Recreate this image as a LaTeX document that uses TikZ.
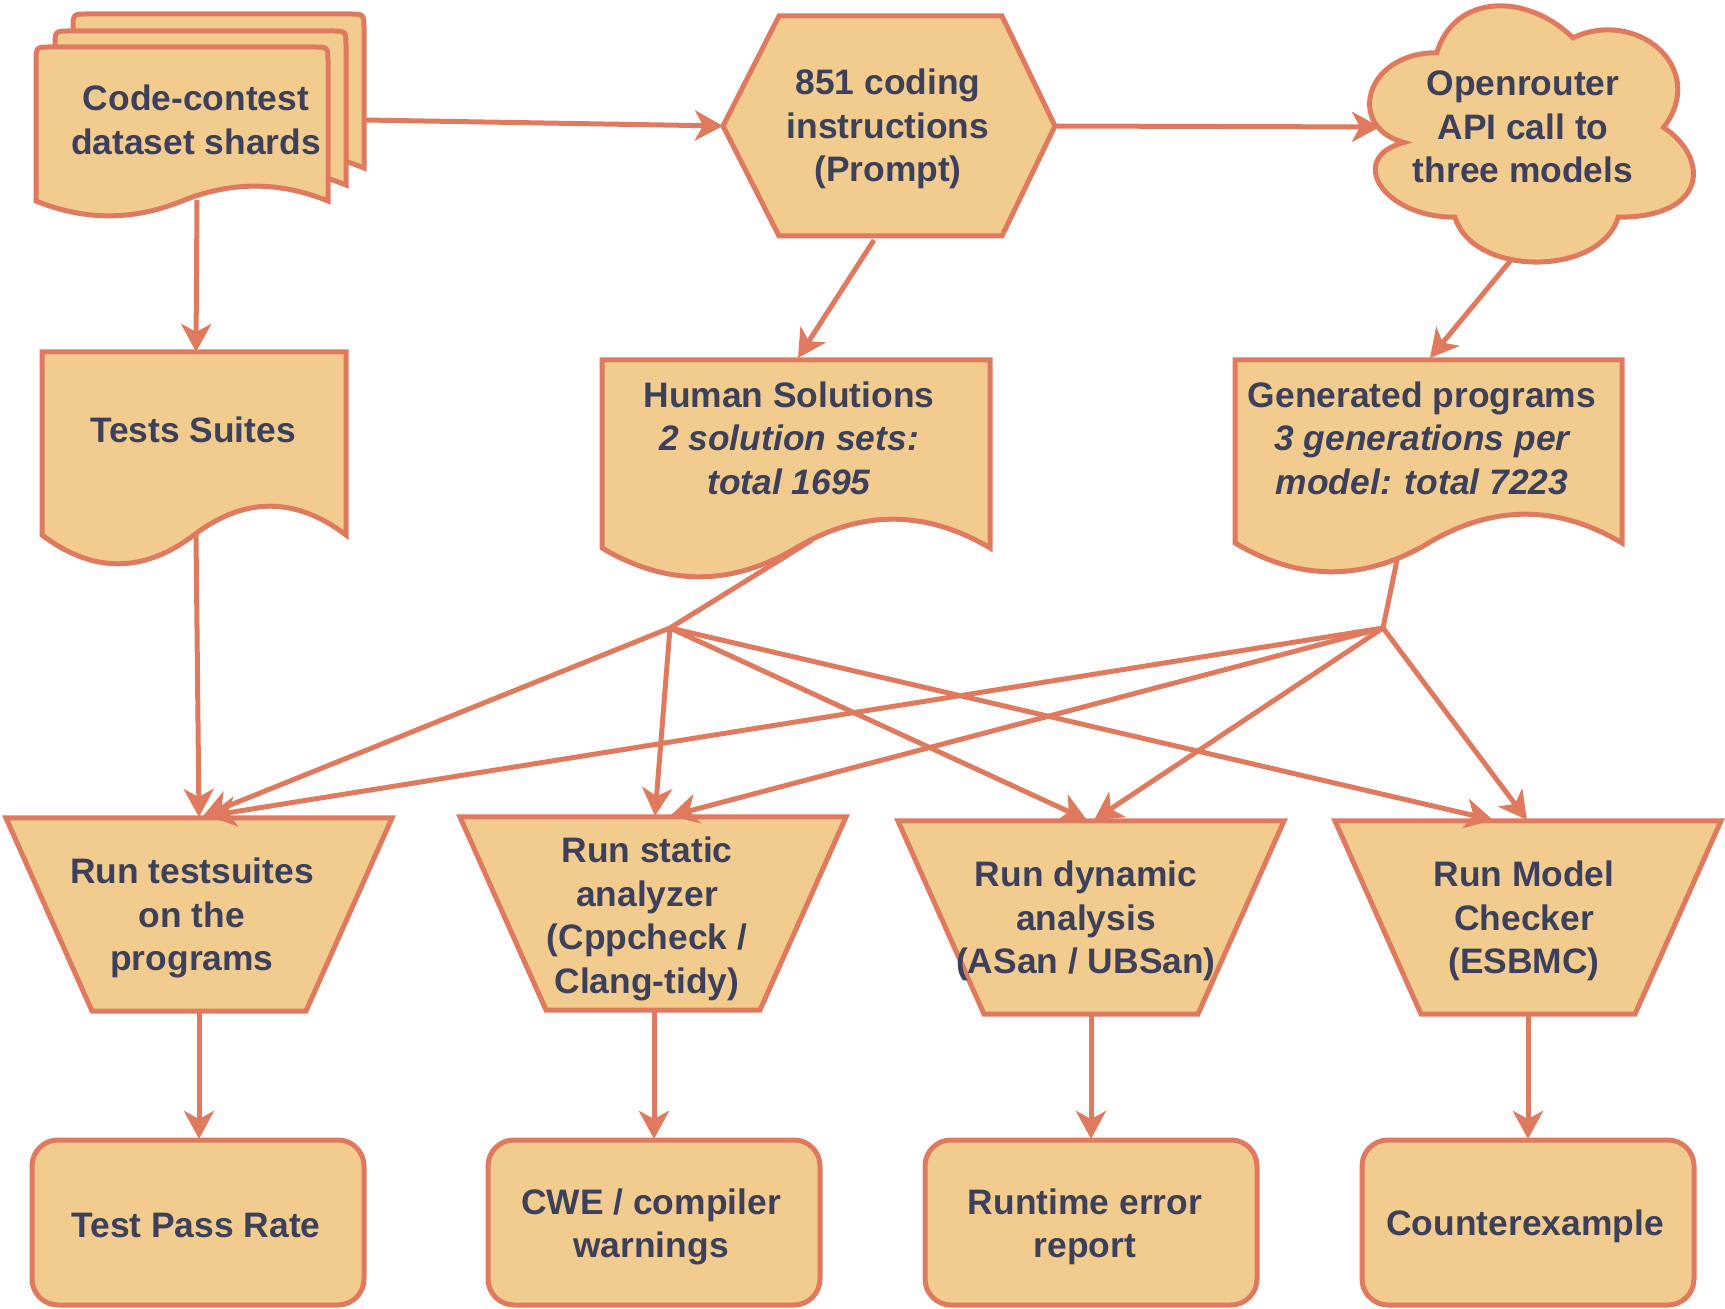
\documentclass[tikz,border=0pt]{standalone}
\usepackage{fontspec}
\setmainfont{Liberation Sans}
\usetikzlibrary{arrows.meta}
\definecolor{fillc}{HTML}{F2CC8F}
\definecolor{strokec}{HTML}{E07A5F}
\definecolor{ink}{HTML}{3D405B}
\tikzset{
  shp/.style={fill=fillc, draw=strokec, line width=2.5pt, line join=miter},
  conn/.style={draw=strokec, line width=2.5pt, -{Stealth[length=14pt,width=15pt,inset=4pt]}},
  plainline/.style={draw=strokec, line width=2.5pt},
  txt/.style={font=\fontsize{17.7pt}{21.8pt}\selectfont\bfseries, text=ink, align=center, inner sep=0pt},
}
% document shape: x0 x1 ytop yend d radius
\newcommand{\docshp}[6]{%
  \pgfmathsetmacro{\dw}{(#2-#1)/6}%
  \pgfmathsetmacro{\dm}{(#1+#2)/2}%
  \pgfmathsetmacro{\dup}{#4-0.6*#5}%
  \pgfmathsetmacro{\ddn}{#4+0.6*#5}%
  \path[shp] (#1,#4) -- (#1,#3+#6) .. controls (#1,#3) .. (#1+#6,#3) -- (#2-#6,#3) .. controls (#2,#3) .. (#2,#3+#6) -- (#2,#4)
    .. controls (#2-\dw,\dup) and (\dm+\dw,\dup) .. (\dm,#4)
    .. controls (\dm-\dw,\ddn) and (#1+\dw,\ddn) .. (#1,#4) -- cycle;
}
% inverted trapezoid: x0 ytop
\newcommand{\trapshp}[2]{%
  \path[shp] (#1,#2) -- (#1+386,#2) -- (#1+300,#2+193) -- (#1+86,#2+193) -- cycle;
}
\begin{document}
\begin{tikzpicture}[x=0.5pt,y=-0.5pt]
\useasboundingbox (0,0) rectangle (1725,1309);

% ---- shapes ----
\docshp{73}{364}{14}{168}{33}{15}
\docshp{55}{346}{31}{185}{33}{15}
\docshp{36}{328}{47}{201}{33}{15}

\path[shp] (723,126) -- (779,16) -- (1002,16) -- (1055,126) -- (1002,236) -- (779,236) -- cycle;

\begin{scope}[shift={(1346,-22)}]
\path[shp] (0.25*363,0.25*299)
  .. controls (0.05*363,0.25*299) and (0,0.5*299) .. (0.16*363,0.55*299)
  .. controls (0,0.6*299) and (0.1*363,0.8*299) .. (0.3*363,0.8*299)
  .. controls (0.35*363,299) and (0.7*363,299) .. (0.75*363,0.8*299)
  .. controls (363,0.8*299) and (363,0.6*299) .. (0.875*363,0.5*299)
  .. controls (363,0.3*299) and (0.8*363,0.1*299) .. (0.625*363,0.2*299)
  .. controls (0.5*363,0.05*299) and (0.3*363,0.05*299) .. (0.25*363,0.25*299) -- cycle;
\end{scope}

\docshp{42}{346}{352}{535}{64}{0}
\docshp{602}{990}{360}{548}{64}{0}
\docshp{1235}{1622}{360}{543}{64}{0}

\trapshp{6}{818}
\trapshp{460}{817}
\trapshp{898}{821}
\trapshp{1335}{821}

\path[shp, rounded corners=13pt] (32,1140) rectangle (364,1305);
\path[shp, rounded corners=13pt] (488,1140) rectangle (820,1305);
\path[shp, rounded corners=13pt] (925,1140) rectangle (1257,1305);
\path[shp, rounded corners=13pt] (1362,1140) rectangle (1694,1305);

% ---- connection points ----
\coordinate (shE) at (364,120);
\coordinate (shS) at (197,200);
\coordinate (hexW) at (723,126);
\coordinate (hexE) at (1055,126);
\coordinate (hexS) at (874,240);
\coordinate (cloudW) at (1380,127);
\coordinate (cloudS) at (1511,260);
\coordinate (testsN) at (196,352);
\coordinate (testsS) at (196,534);
\coordinate (humN) at (798,358);
\coordinate (humS) at (812,540);
\coordinate (genN) at (1430,358);
\coordinate (genS) at (1397,560);
\coordinate (J1) at (670,628);
\coordinate (J2) at (1383,628);
\coordinate (rtsN) at (199,817);
\coordinate (rtsA) at (203,816);
\coordinate (rtsB) at (208,816);
\coordinate (statA) at (655,816);
\coordinate (statB) at (670,816);
\coordinate (dynA) at (1087,820);
\coordinate (dynB) at (1094,820);
\coordinate (modA) at (1493,820);
\coordinate (modB) at (1527,820);
\coordinate (rtsS) at (199,1011);
\coordinate (statS) at (654,1011);
\coordinate (dynS) at (1091,1014);
\coordinate (modS) at (1528,1014);
\coordinate (tprN) at (199,1139);
\coordinate (cweN) at (654,1139);
\coordinate (rteN) at (1091,1139);
\coordinate (ceN) at (1528,1139);

% ---- connectors ----
\draw[conn] (shE) -- (hexW);
\draw[conn] (hexE) -- (cloudW);
\draw[conn] (shS) -- (testsN);
\draw[conn] (hexS) -- (humN);
\draw[conn] (cloudS) -- (genN);
\draw[conn] (testsS) -- (rtsN);
\draw[plainline] (humS) -- (J1);
\draw[plainline] (genS) -- (J2);
\draw[conn] (J1) -- (rtsA);
\draw[conn] (J1) -- (statA);
\draw[conn] (J1) -- (dynA);
\draw[conn] (J1) -- (modA);
\draw[conn] (J2) -- (rtsB);
\draw[conn] (J2) -- (statB);
\draw[conn] (J2) -- (dynB);
\draw[conn] (J2) -- (modB);
\draw[conn] (rtsS) -- (tprN);
\draw[conn] (statS) -- (cweN);
\draw[conn] (dynS) -- (rteN);
\draw[conn] (modS) -- (ceN);

% ---- texts ----
\node[txt] (shardsT) at (196,120) {Code-contest\\dataset shards};
\node[txt] (hexT) at (888,129) {851 coding\\instructions\\(Prompt)};
\node[txt] (cloudT) at (1523,127) {Openrouter\\API call to\\three models};
\node[txt] (testsT) at (193,430) {Tests Suites};
\node[txt] (humT) at (789,438) {Human Solutions\\{\itshape 2 solution sets:}\\{\itshape total 1695}};
\node[txt] (genT) at (1422,438) {Generated programs\\{\itshape 3 generations per}\\{\itshape model: total 7223}};
\node[txt] (rtsT) at (192,918) {Run testsuites\\on the\\programs};
\node[txt] (statT) at (647,919) {Run static\\analyzer\\(Cppcheck /\\Clang-tidy)};
\node[txt] (dynT) at (1086,921) {Run dynamic\\analysis\\(ASan / UBSan)};
\node[txt] (modT) at (1524,921) {Run Model\\Checker\\(ESBMC)};
\node[txt] (tprT) at (196,1225) {Test Pass Rate};
\node[txt] (cweT) at (651,1227) {CWE / compiler\\warnings};
\node[txt] (rteT) at (1085,1227) {Runtime error\\report};
\node[txt] (ceT) at (1525,1226) {Counterexample};
\end{tikzpicture}
\end{document}
